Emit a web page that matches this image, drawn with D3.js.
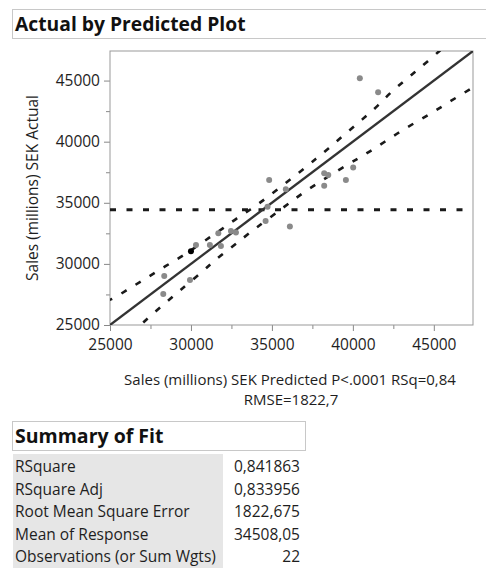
<!DOCTYPE html>
<html>
<head>
<meta charset="utf-8">
<script src="https://cdn.jsdelivr.net/npm/d3@7"></script>
<style>
  body { margin: 0; background: #fff; }
  text { font-family: "Open Sans", "Noto Sans", sans-serif; fill: #1e1e1e; }
</style>
</head>
<body>
<script>
// observed points: predicted vs actual (millions SEK)
const predicted = [28350, 28290, 29940, 30000, 30310, 31170, 31690, 31850, 32470, 32780, 34610,
  34730, 34830, 35860, 36110, 38230, 38230, 38480, 39570, 40020, 40430, 41560];
const actual = [29010, 27540, 28680, 31030, 31550, 31550, 32510, 31470, 32700, 32560, 33510,
  34680, 36870, 36110, 33050, 37420, 36400, 37280, 36870, 37880, 45200, 44050];
const highlighted = [3]; // the one black point

// confidence curves
const upperX = [24800, 25170, 26030, 26910, 27780, 28640, 29520, 30390, 31170, 31990, 32820, 33640,
  34510, 36970, 37720, 38520, 39260, 40060, 40800, 41560, 42280, 43070, 43830, 44610, 45500];
const upperY = [27000, 27100, 27870, 28550, 29280, 29990, 30670, 31470, 32180, 32920, 33730, 34410,
  35230, 37770, 38590, 39470, 40330, 41230, 42070, 42950, 43970, 44860, 45690, 46560, 47600];
const lowerX = [26300, 26960, 27670, 28460, 29220, 30800, 31480, 32360, 33130, 33910, 35600, 36320,
  37180, 38070, 39810, 40700, 41520, 42390, 43210, 44140, 45020, 45880, 46770, 47600];
const lowerY = [24300, 25080, 25960, 26830, 27730, 29450, 30320, 31200, 32020, 32840, 34500, 35230,
  36050, 36810, 38240, 38920, 39600, 40370, 41060, 41790, 42460, 43200, 43910, 44600];

const meanResponse = 34508.05;
const axisMax = 47420;
const majorTicks = [25000, 30000, 35000, 40000, 45000];
const minorTicks = [27500, 32500, 37500, 42500];

const xTitle = "Sales (millions) SEK Predicted P<.0001 RSq=0,84";
const xTitle2 = "RMSE=1822,7";
const yTitle = "Sales (millions) SEK Actual";

const fitLabels = ["RSquare", "RSquare Adj", "Root Mean Square Error", "Mean of Response", "Observations (or Sum Wgts)"];
const fitValues = ["0,841863", "0,833956", "1822,675", "34508,05", "22"];

const W = 486, H = 570;
const plot = { left: 110, top: 51, right: 473, bottom: 325 };

const svg = d3.select("body").append("svg")
  .attr("width", W)
  .attr("height", H);

// header box
svg.append("rect")
  .attr("x", 12.5).attr("y", 9.5)
  .attr("width", 490).attr("height", 29)
  .attr("fill", "#fff").attr("stroke", "#c8c8c8");
svg.append("text")
  .attr("x", 15).attr("y", 31)
  .style("font-size", "19.3px").style("font-weight", "bold").style("fill", "#111")
  .text("Actual by Predicted Plot");

const x = d3.scaleLinear().domain([25000, axisMax]).range([plot.left, plot.right]);
const y = d3.scaleLinear().domain([25000, axisMax]).range([plot.bottom, plot.top]);

// axes
const fmt = d3.format("d");
svg.append("g")
  .attr("transform", "translate(0," + plot.bottom + ")")
  .call(d3.axisBottom(x).tickValues(majorTicks).tickSize(6).tickPadding(8).tickFormat(fmt));
svg.append("g")
  .attr("transform", "translate(0," + plot.bottom + ")")
  .call(d3.axisBottom(x).tickValues(minorTicks).tickSize(4).tickFormat(""));
svg.append("g")
  .attr("transform", "translate(" + plot.left + ",0)")
  .call(d3.axisLeft(y).tickValues(majorTicks).tickSize(6).tickPadding(4).tickFormat(fmt));
svg.append("g")
  .attr("transform", "translate(" + plot.left + ",0)")
  .call(d3.axisLeft(y).tickValues(minorTicks).tickSize(4).tickFormat(""));

svg.selectAll(".domain").remove();
svg.selectAll(".tick line").attr("stroke", "#888");
svg.selectAll(".tick text")
  .style("font-size", "15.5px")
  .style("font-family", "\"Open Sans\", sans-serif")
  .attr("fill", "#1e1e1e");

// plot frame
svg.append("rect")
  .attr("x", plot.left).attr("y", plot.top)
  .attr("width", plot.right - plot.left).attr("height", plot.bottom - plot.top)
  .attr("fill", "none").attr("stroke", "#999");

svg.append("defs").append("clipPath").attr("id", "clip")
  .append("rect")
  .attr("x", plot.left).attr("y", plot.top)
  .attr("width", plot.right - plot.left).attr("height", plot.bottom - plot.top);

const g = svg.append("g").attr("clip-path", "url(#clip)");

// mean line
g.append("line")
  .attr("x1", plot.left).attr("x2", plot.right)
  .attr("y1", y(meanResponse) + 1).attr("y2", y(meanResponse) + 1)
  .attr("stroke", "#1a1a1a").attr("stroke-width", 3)
  .attr("stroke-dasharray", "6,10.5");

// confidence curves
const line = d3.line().curve(d3.curveBasis);
[[upperX, upperY], [lowerX, lowerY]].forEach(function (band) {
  g.append("path")
    .attr("d", line(band[0].map(function (d, i) { return [x(d), y(band[1][i])]; })))
    .attr("fill", "none")
    .attr("stroke", "#1a1a1a").attr("stroke-width", 2.6)
    .attr("stroke-dasharray", "6,10.5");
});

// fit line (actual = predicted)
g.append("line")
  .attr("x1", x(25000)).attr("y1", y(25000))
  .attr("x2", x(axisMax)).attr("y2", y(axisMax))
  .attr("stroke", "#333").attr("stroke-width", 2.3);

// points
g.selectAll("circle")
  .data(predicted)
  .enter().append("circle")
  .attr("cx", function (d) { return x(d); })
  .attr("cy", function (d, i) { return y(actual[i]); })
  .attr("r", 3)
  .attr("fill", function (d, i) { return highlighted.indexOf(i) >= 0 ? "#000" : "#8a8a8a"; });

// x title, two lines
svg.append("text")
  .attr("x", 290).attr("y", 384.5)
  .attr("text-anchor", "middle")
  .style("font-size", "15px")
  .text(xTitle);
svg.append("text")
  .attr("x", 291).attr("y", 405)
  .attr("text-anchor", "middle")
  .style("font-size", "15px")
  .text(xTitle2);

svg.append("text")
  .attr("transform", "translate(38," + ((plot.top + plot.bottom) / 2) + ") rotate(-90)")
  .attr("text-anchor", "middle")
  .style("font-size", "15.5px")
  .text(yTitle);

// Summary of Fit
svg.append("rect")
  .attr("x", 12.5).attr("y", 421.5)
  .attr("width", 293).attr("height", 29)
  .attr("fill", "#fff").attr("stroke", "#c8c8c8");
svg.append("text")
  .attr("x", 15).attr("y", 443)
  .style("font-size", "19.5px").style("font-weight", "bold").style("fill", "#111")
  .text("Summary of Fit");

const rowY = d3.scalePoint().domain(fitLabels).range([472, 562]);
svg.append("rect")
  .attr("x", 13).attr("y", 454)
  .attr("width", 210).attr("height", 114)
  .attr("fill", "#e6e6e6");

svg.selectAll(".fitlabel")
  .data(fitLabels)
  .enter().append("text")
  .attr("class", "fitlabel")
  .attr("x", 15)
  .attr("y", function (d) { return rowY(d); })
  .style("font-size", "15.5px")
  .text(function (d) { return d; });

svg.selectAll(".fitvalue")
  .data(fitValues)
  .enter().append("text")
  .attr("class", "fitvalue")
  .attr("x", 300)
  .attr("y", function (d, i) { return rowY(fitLabels[i]); })
  .attr("text-anchor", "end")
  .style("font-size", "15.5px")
  .text(function (d) { return d; });
</script>
</body>
</html>
